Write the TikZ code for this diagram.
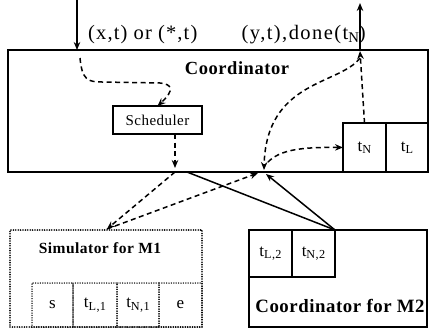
\documentclass[tikz,border=0pt]{standalone}
\usepackage{fontspec}
\usepackage{graphicx}
\setmainfont{Liberation Serif}[LetterSpace=3]
\usetikzlibrary{arrows.meta}
\newcommand\sbx[1]{\raisebox{-0.3ex}{\scalebox{0.72}{#1}}}
\tikzset{
  box/.style={draw, line width=1.4pt, inner sep=0pt, outer sep=0pt, anchor=north west},
  cell/.style={draw, line width=1.2pt, inner sep=0pt, outer sep=0pt, anchor=north west, font=\fontsize{17}{19}\selectfont},
  dcell/.style={draw, line width=1.5pt, dash pattern=on 0pt off 2.4pt, line cap=round, inner sep=0pt, outer sep=0pt, anchor=north west, font=\fontsize{17}{19}\selectfont},
  dflow/.style={line width=1.5pt, dash pattern=on 5pt off 3.5pt},
  sflow/.style={line width=1.5pt},
  tip/.style={-{Stealth[length=8pt,width=6.5pt]}},
  lbl/.style={font=\fontsize{20.5}{22}\selectfont\addfontfeature{LetterSpace=5.5}, inner sep=0pt},
  ttl/.style={font=\fontsize{18.5}{20}\selectfont\bfseries, inner sep=0pt},
}
\begin{document}
\begin{tikzpicture}[x=1pt,y=-1pt]
\useasboundingbox (0,0) rectangle (430,329);
% Coordinator
\node[box, line width=2.6pt, minimum width=420pt, minimum height=122pt] (coord) at (8,50) {};
\node[ttl] (ctitle) at (237,68) {Coordinator};
\node[box, line width=1.7pt, minimum width=89pt, minimum height=28pt, anchor=center,
      font=\fontsize{15}{17}\selectfont] (sched) at (157.5,120) {Scheduler};
\node[cell, minimum width=43pt, minimum height=49pt] (tN) at (343,123) {t\sbx{N}};
\node[cell, minimum width=42pt, minimum height=49pt] (tL) at (386,123) {t\sbx{L}};
% external arrows
\coordinate (inTop) at (77,0);
\coordinate (inBot) at (77,50);
\coordinate (outTop) at (360,3);
\coordinate (outBot) at (360,50);
\draw[sflow, tip] (inTop) -- (inBot);
\draw[sflow, tip] (outBot) -- (outTop);
\node[lbl, anchor=base west] (inlbl) at (88,40) {(x,t) or (*,t)};
\node[lbl, font=\fontsize{20.5}{22}\selectfont\addfontfeature{LetterSpace=7}, anchor=base east] (outlbl) at (366,40) {(y,t),done(t\sbx{N})};
% internal flows
\coordinate (inStart) at (80,58);
\draw[dflow, tip] (inStart) .. controls (82,80) and (88,82) .. (102,82) -- (160,83)
   .. controls (172,84) and (175,90) .. (sched.north);
\coordinate (schedTip) at (175,168);
\draw[dflow, tip] (sched.south -| schedTip) -- (schedTip);
\coordinate (upTip) at (360,51);
\draw[dflow, tip] (tN.north) -- (upTip);
\coordinate (curveTop) at (360,58);
\coordinate (J) at (264,170);
\draw[dflow, tip] (curveTop) .. controls (340,85) and (266,80) .. (J);
\coordinate (toTN) at (268,162);
\draw[dflow, tip] (toTN) .. controls (280,150) and (300,147) .. (tN.west);
% Simulator M1
\node[dcell, line width=1.8pt, minimum width=192pt, minimum height=97pt] (m1) at (10,230) {};
\node[ttl, font=\fontsize{15.5}{18}\selectfont\bfseries] (m1t) at (100,248) {Simulator for M1};
\node[dcell, minimum width=41pt, minimum height=44pt] (s) at (32,283) {s};
\node[dcell, minimum width=44pt, minimum height=44pt] (tl1) at (73,283) {t\sbx{L,1}};
\node[dcell, minimum width=42pt, minimum height=44pt] (tn1) at (117,283) {t\sbx{N,1}};
\node[dcell, minimum width=43pt, minimum height=44pt] (e) at (159,283) {e};
% Coordinator M2
\node[box, line width=2pt, minimum width=178pt, minimum height=97pt] (m2) at (249,230) {};
\node[cell, minimum width=43pt, minimum height=47pt] (tl2) at (249,230) {t\sbx{L,2}};
\node[cell, minimum width=43pt, minimum height=47pt] (tn2) at (292,230) {t\sbx{N,2}};
\node[ttl, font=\fontsize{18.8}{21}\selectfont\bfseries] (m2t) at (340,306) {Coordinator for M2};
% connections between coordinator and children
\coordinate (sOut) at (175,172);
\coordinate (sOut2) at (187,172);
\coordinate (m1in) at (107,229);
\coordinate (J1) at (258,173);
\coordinate (J2) at (266,174);
\draw[dflow, tip] (sOut) -- (m1in);
\draw[dflow, tip] (m1in) -- (J1);
\draw[sflow] (sOut2) -- (tn2.north east);
\draw[sflow, tip] (tn2.north east) -- (J2);
\end{tikzpicture}
\end{document}
